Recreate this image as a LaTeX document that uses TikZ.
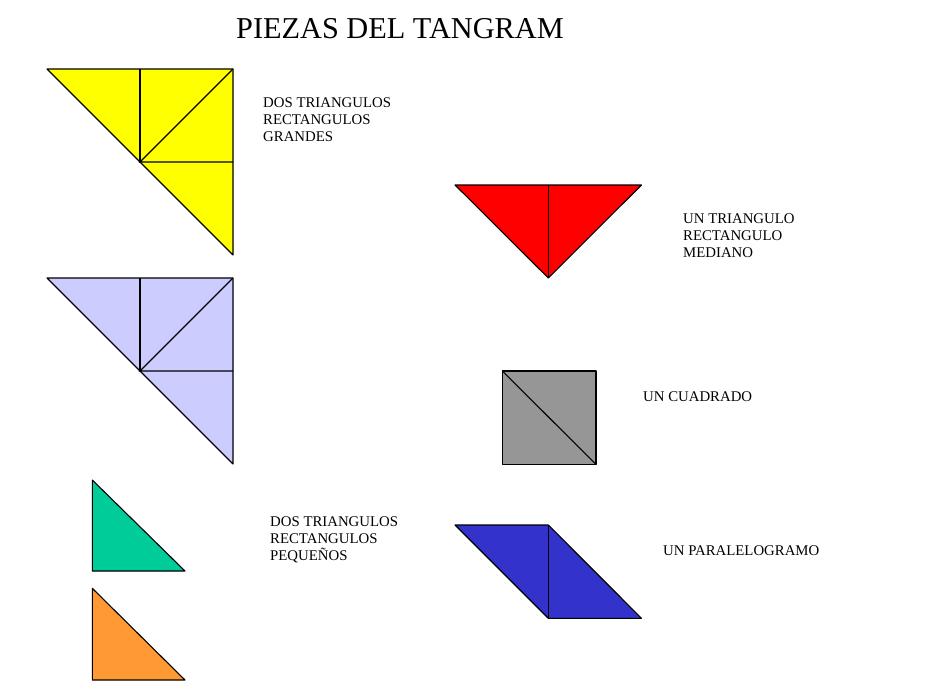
\documentclass[tikz,border=0pt]{standalone}
\usepackage{fontspec}
\setmainfont{Liberation Serif}
\usetikzlibrary{calc}

\definecolor{amarillo}{RGB}{255,255,0}
\definecolor{lila}{RGB}{204,204,255}
\definecolor{rojo}{RGB}{255,0,0}
\definecolor{gris}{RGB}{150,150,150}
\definecolor{azul}{RGB}{51,51,204}
\definecolor{verde}{RGB}{0,204,153}
\definecolor{naranja}{RGB}{255,153,51}

\tikzset{
    pieza/.style={draw=black, line width=1.1pt, line join=round},
    linea/.style={black, line width=1.1pt},
    etiqueta/.style={anchor=base west, align=left, inner sep=0pt, font=\fontsize{14.8}{17}\selectfont}
}

\begin{document}
\begin{tikzpicture}[x=1pt,y=-1pt]
        \useasboundingbox (0,0) rectangle (928,696);

        \node[anchor=base west, inner sep=0pt, font=\fontsize{30.3}{36}\selectfont] (titulo) at (236,38) {PIEZAS DEL TANGRAM};

        \coordinate (ga1) at (47,69);
        \coordinate (ga2) at (233,69);
        \coordinate (ga3) at (233,255);
        \coordinate (gam) at (140,162);
        \filldraw[pieza, fill=amarillo] (ga1) -- (ga2) -- (ga3) -- cycle;
        \draw[linea] (ga2) -- (gam) -- (gam -| ga2);
        \draw[linea] (gam) -- (gam |- ga1);

        \coordinate (gb1) at (47,278);
        \coordinate (gb2) at (233,278);
        \coordinate (gb3) at (233,464);
        \coordinate (gbm) at (140,371);
        \filldraw[pieza, fill=lila] (gb1) -- (gb2) -- (gb3) -- cycle;
        \draw[linea] (gb2) -- (gbm) -- (gbm -| gb2);
        \draw[linea] (gbm) -- (gbm |- gb1);

        \node[etiqueta] (grandes) at (263,141.7) {DOS TRIANGULOS\\RECTANGULOS\\GRANDES};

        \coordinate (m1) at (455,185);
        \coordinate (m2) at (641.5,185);
        \coordinate (m3) at (548.3,278);
        \filldraw[pieza, fill=rojo] (m1) -- (m2) -- (m3) -- cycle;
        \draw[linea] (m3) -- (m3 |- m1);

        \node[etiqueta] (mediano) at (683,257) {UN TRIANGULO\\RECTANGULO\\MEDIANO};

        \coordinate (c1) at (502.3,371);
        \coordinate (c2) at (596,464.3);
        \filldraw[pieza, fill=gris] (c1) rectangle (c2);
        \draw[linea] (c1) -- (c2);

        \node[etiqueta] (cuadrado) at (643,401) {UN CUADRADO};

        \coordinate (p1) at (455,525);
        \coordinate (p2) at (548.3,525);
        \coordinate (p3) at (641.5,618.3);
        \coordinate (p4) at (548.3,618.3);
        \filldraw[pieza, fill=azul] (p1) -- (p2) -- (p3) -- (p4) -- cycle;
        \draw[linea] (p2) -- (p4);

        \node[etiqueta] (paralelo) at (663,555.7) {UN PARALELOGRAMO};

        \coordinate (pa1) at (92.3,480);
        \coordinate (pa2) at (92.3,571);
        \coordinate (pa3) at (185,571);
        \filldraw[pieza, fill=verde] (pa1) -- (pa2) -- (pa3) -- cycle;

        \coordinate (pb1) at (92.3,588.3);
        \coordinate (pb2) at (92.3,680);
        \coordinate (pb3) at (185,680);
        \filldraw[pieza, fill=naranja] (pb1) -- (pb2) -- (pb3) -- cycle;

        \node[etiqueta] (pequenos) at (270,560) {DOS TRIANGULOS\\RECTANGULOS\\PEQUEÑOS};
\end{tikzpicture}
\end{document}
